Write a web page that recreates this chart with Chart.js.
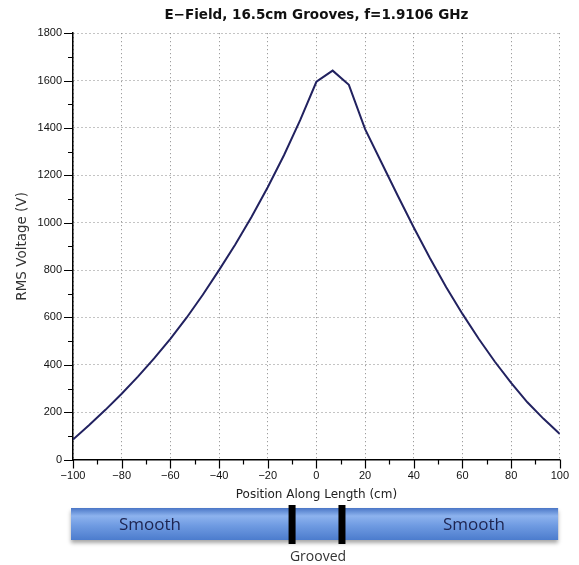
<!DOCTYPE html>
<html>
<head>
<meta charset="utf-8">
<script src="https://cdn.jsdelivr.net/npm/chart.js@4"></script>
<style>
    html, body { margin: 0; padding: 0; background: #fff; }
    #wrap { width: 579px; height: 565px; }
</style>
</head>
<body>
<div id="wrap"><canvas id="chart" width="579" height="565"></canvas></div>
<script>
// Data (samples every 20/3 cm)
const positions = [
    -100, -93.33, -86.67, -80, -73.33, -66.67, -60, -53.33, -46.67, -40,
    -33.33, -26.67, -20, -13.33, -6.67, 0, 6.67, 13.33, 20, 26.67,
    33.33, 40, 46.67, 53.33, 60, 66.67, 73.33, 80, 86.67, 93.33, 100
];
const voltages = [
    85, 146, 210, 278, 350, 427, 510, 599, 696, 800,
    908, 1024, 1150, 1285, 1433, 1595, 1642, 1582, 1395, 1255,
    1116, 980, 850, 728, 615, 510, 413, 324, 242, 172, 108
];
const xTicks = [-100, -80, -60, -40, -20, 0, 20, 40, 60, 80, 100];
const yTicks = [0, 200, 400, 600, 800, 1000, 1200, 1400, 1600, 1800];
const grooveEdges = [-10, 10.5];

const tickFont = { family: 'Liberation Sans', size: 11 };
const minus = v => (v < 0 ? '\u2212' + (-v) : String(v));

// Tick marks (major + minor) drawn outside the axes
const tickMarks = {
    id: 'tickMarks',
    afterDraw(chart) {
        const { ctx, scales: { x, y } } = chart;
        ctx.save();
        ctx.strokeStyle = '#000';
        ctx.lineWidth = 1.2;
        ctx.beginPath();
        for (let v = -100; v <= 100; v += 10) {
            const px = Math.round(x.getPixelForValue(v)) + 0.5;
            const len = xTicks.includes(v) ? 9 : 5;
            ctx.moveTo(px, y.bottom);
            ctx.lineTo(px, y.bottom + len);
        }
        for (let v = 0; v <= 1800; v += 100) {
            const py = Math.round(y.getPixelForValue(v)) + 0.5;
            const len = yTicks.includes(v) ? 9 : 5;
            ctx.moveTo(x.left, py);
            ctx.lineTo(x.left - len, py);
        }
        ctx.stroke();
        ctx.restore();
    }
};

// Waveguide sketch under the x axis
const guideSketch = {
    id: 'guideSketch',
    afterDraw(chart) {
        const { ctx, scales: { x } } = chart;
        const left = x.getPixelForValue(-100) - 2;
        const right = x.getPixelForValue(99.3);
        const top = 508, h = 32;
        ctx.save();
        ctx.shadowColor = 'rgba(0,0,0,0.35)';
        ctx.shadowBlur = 4;
        ctx.shadowOffsetY = 3;
        const g = ctx.createLinearGradient(0, top, 0, top + h);
        g.addColorStop(0, '#4a76c6');
        g.addColorStop(0.25, '#8db3ee');
        g.addColorStop(0.55, '#6f9be2');
        g.addColorStop(1, '#4c7ccd');
        ctx.fillStyle = g;
        ctx.fillRect(left, top, right - left, h);
        ctx.restore();

        ctx.save();
        ctx.fillStyle = '#000';
        grooveEdges.forEach(v => {
            const px = x.getPixelForValue(v);
            ctx.fillRect(px - 3.5, 505, 7, 39);
        });
        ctx.fillStyle = '#1d2450';
        ctx.font = '17px "Open Sans"';
        ctx.textAlign = 'center';
        ctx.textBaseline = 'middle';
        ctx.fillText('Smooth', 150, 525);
        ctx.fillText('Smooth', 474, 525);
        ctx.fillStyle = '#333';
        ctx.font = '14px "Open Sans"';
        ctx.fillText('Grooved', 318, 557);
        ctx.restore();
    }
};

new Chart(document.getElementById('chart'), {
    type: 'line',
    data: {
        datasets: [{
            data: positions.map((p, i) => ({ x: p, y: voltages[i] })),
            borderColor: '#222260',
            borderWidth: 2,
            pointRadius: 0,
            tension: 0
        }]
    },
    options: {
        responsive: false,
        animation: false,
        layout: { padding: { top: 0, right: 12, bottom: 64, left: 14 } },
        plugins: {
            legend: { display: false },
            tooltip: { enabled: false },
            title: {
                display: true,
                fullSize: false,
                text: 'E\u2212Field, 16.5cm Grooves, f=1.9106 GHz',
                color: '#111',
                font: { family: 'DejaVu Sans', size: 13.5, weight: 'bold' },
                padding: { top: 7, bottom: 10 }
            }
        },
        scales: {
            x: {
                type: 'linear',
                min: -100,
                max: 100,
                afterBuildTicks: axis => { axis.ticks = xTicks.map(v => ({ value: v })); },
                ticks: { color: '#111', font: tickFont, padding: 10, maxRotation: 0, callback: v => minus(v) },
                grid: { color: '#888', lineWidth: 1, drawTicks: false },
                border: { color: '#000', width: 1.5, dash: [1, 3] },
                title: {
                    display: true,
                    text: 'Position Along Length (cm)',
                    color: '#222',
                    font: { family: 'DejaVu Sans', size: 12, lineHeight: 1.1 },
                    padding: { top: -5, bottom: 0 }
                }
            },
            y: {
                min: 0,
                max: 1800,
                afterBuildTicks: axis => { axis.ticks = yTicks.map(v => ({ value: v })); },
                afterFit: axis => { axis.width = 59; },
                ticks: { color: '#111', font: tickFont, padding: 11, callback: v => String(v) },
                grid: { color: '#888', lineWidth: 1, drawTicks: false },
                border: { color: '#000', width: 1.5, dash: [1, 3] },
                title: {
                    display: true,
                    text: 'RMS Voltage (V)',
                    color: '#333',
                    font: { family: 'DejaVu Sans', size: 13.5 },
                    padding: { top: 0, bottom: 0 }
                }
            }
        }
    },
    plugins: [tickMarks, guideSketch]
});
</script>
</body>
</html>
